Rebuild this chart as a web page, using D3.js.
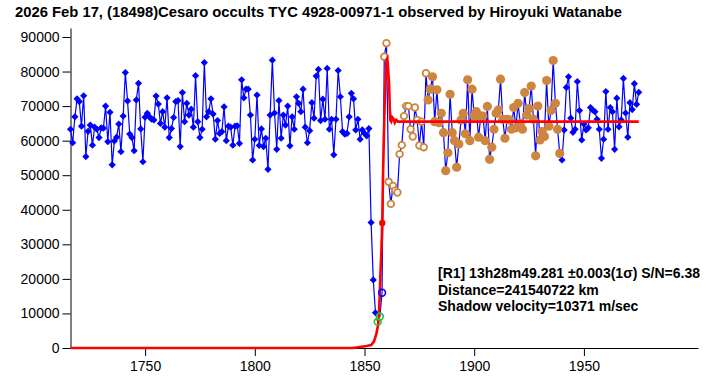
<!DOCTYPE html>
<html>
<head>
<meta charset="utf-8">
<script src="https://cdn.jsdelivr.net/npm/d3@7"></script>
<style>
  body { margin: 0; background: #fff; }
  svg { display: block; font-family: "Liberation Sans", Arial, sans-serif; }
</style>
</head>
<body>
<div id="chart"></div>
<script>
// light curve, one value per frame starting at firstFrame
const firstFrame = 1716;
const flux = [
  63300, 59400, 66900, 72100, 71300, 64200, 73000, 55400, 62700, 64500,
  58700, 63900, 63300, 60900, 63700, 63600, 70000, 59700, 68200, 53000,
  59900, 61000, 64800, 56800, 67100, 79700, 71500, 61900, 60900, 57100,
  71800, 76600, 63400, 53900, 66800, 67900, 66900, 66200, 66000, 72900,
  70600, 65000, 68400, 63900, 72400, 60900, 63500, 66700, 71300, 71600,
  58300, 73900, 65500, 70800, 67400, 69100, 63900, 78800, 65500, 60900,
  63300, 82600, 66900, 68400, 72100, 67700, 60400, 65800, 62100, 62600,
  69800, 60000, 64200, 63900, 58700, 64200, 64300, 59200, 77600, 72400,
  74900, 74900, 67400, 54400, 60400, 73200, 58600, 63400, 58300, 60700,
  51700, 67400, 83300, 68000, 57500, 71600, 60700, 67400, 64500, 70000,
  58500, 66900, 63300, 72700, 70800, 68400, 74900, 63900, 59400, 62900,
  71000, 66500, 78700, 80600, 65800, 72000, 66200, 80900, 63300, 66200,
  55900, 66200, 80300, 72700, 62600, 61900, 62100, 66900, 73700, 72100,
  63100, 66200, 60400, 63100, 62100, 61400, 63500, 36300, 19700, 10200,
  7600, 9100, 16000, 84300, 88200, 48100, 41700, 46900, 45500, 45000,
  56100, 58700, 67100, 70000, 70000, 63300, 61200, 69600, 66000, 58600,
  65500, 58100, 79500, 71800, 74900, 78500, 65500, 74700, 65200, 67900,
  62300, 51300, 56500, 73400, 62300, 60000, 52300, 59000, 66000, 67900,
  62000, 77600, 60000, 74900, 67100, 68400, 61000, 67100, 67100, 60000,
  69900, 54600, 58100, 63300, 67900, 68900, 77800, 66200, 60700, 66200,
  66000, 63300, 69600, 63700, 70800, 65000, 63300, 73900, 67400, 69300,
  75800, 66200, 55600, 70000, 60200, 62600, 61200, 77400, 64200, 68700,
  83200, 70800, 63300, 56300, 54400, 63100, 75400, 78500, 66500, 62400,
  63300, 77100, 68700, 60200, 64800, 63100, 63700, 69600, 68900, 68400,
  66200, 63300, 54900, 60400, 74200, 63300, 69600, 68400, 57500, 72300,
  64000, 66000, 78000, 68000, 61000, 71000, 69000, 76500, 70500, 74000
];

// frames drawn with other markers
const greenFrames = [1856, 1857];
const hollowBlueFrames = [1858];
const hollowOrangeFrames = [1859, 1878];   // first, last
const filledOrangeFrames = [1879, 1939];   // first, last

// fitted model curve
const modelX = [1716, 1844.8, 1850.9, 1853.1, 1854.3, 1855.4, 1856.2, 1856.6, 1856.9, 1857.2,
  1857.7, 1858.1, 1858.4, 1858.9, 1859.2, 1859.7, 1860.0, 1860.4, 1860.7, 1861.2,
  1861.5, 1861.8, 1862.2, 1862.7, 1863.3, 1863.8, 1864.5, 1865.3, 1975];
const modelY = [0, 0, 570, 860, 1830, 4050, 6650, 10000, 14800, 20600,
  28300, 36200, 48600, 63100, 70800, 78500, 83300, 83800, 81400, 76600,
  69800, 65900, 65500, 66700, 66200, 65200, 66000, 65500, 65500];

const eventFrame = 1858.1, eventFlux = 36200;

const title = "2026 Feb 17, (18498)Cesaro occults TYC 4928-00971-1 observed by Hiroyuki Watanabe";
const notes = [
  "[R1] 13h28m49.281 \u00b10.003(1\u03c3) S/N=6.38",
  "Distance=241540722 km",
  "Shadow velocity=10371 m/sec"
];
const yTicks = [0, 10000, 20000, 30000, 40000, 50000, 60000, 70000, 80000, 90000];
const xTicks = [1750, 1800, 1850, 1900, 1950];

const width = 728, height = 378;
const margin = { top: 28, right: 30, bottom: 30, left: 70.5 };

const svg = d3.select("#chart").append("svg")
    .attr("width", width)
    .attr("height", height);

const x = d3.scaleLinear()
    .domain([1716, 2002])
    .range([margin.left, width - margin.right]);

const y = d3.scaleLinear()
    .domain([0, 92600])
    .range([height - margin.bottom, margin.top]);

const points = flux.map((v, i) => ({ frame: firstFrame + i, value: v }));

const inRange = (f, r) => f >= r[0] && f <= r[1];
const kind = d => {
    if (greenFrames.includes(d.frame)) return "green";
    if (hollowBlueFrames.includes(d.frame)) return "hollowBlue";
    if (inRange(d.frame, hollowOrangeFrames)) return "hollowOrange";
    if (inRange(d.frame, filledOrangeFrames)) return "filledOrange";
    return "blue";
};

// axes
svg.append("g")
    .attr("transform", `translate(${margin.left},0)`)
    .call(d3.axisLeft(y).tickValues(yTicks).tickFormat(d3.format("d")).tickSize(8).tickSizeOuter(0).tickPadding(3));

svg.append("g")
    .attr("transform", `translate(0,${y(0)})`)
    .call(d3.axisBottom(x).tickValues(xTicks).tickFormat(d3.format("d")).tickSize(8).tickSizeOuter(0).tickPadding(5));

svg.selectAll(".tick text")
    .style("font-size", "14px")
    .attr("fill", "#000");
svg.selectAll(".domain, .tick line").attr("stroke", "#000");

// data line
const line = d3.line()
    .x(d => x(d.frame))
    .y(d => y(d.value));

svg.append("path")
    .datum(points)
    .attr("fill", "none")
    .attr("stroke", "#0000ff")
    .attr("stroke-width", 1.2)
    .attr("d", line);

const diamond = r => `M0,${-r}L${r},0L0,${r}L${-r},0Z`;

svg.append("g")
    .selectAll("path")
    .data(points.filter(d => kind(d) === "blue"))
    .join("path")
    .attr("transform", d => `translate(${x(d.frame)},${y(d.value)})`)
    .attr("d", diamond(3.6))
    .attr("fill", "#0000ff");

svg.append("g")
    .selectAll("circle")
    .data(points.filter(d => kind(d) === "filledOrange"))
    .join("circle")
    .attr("cx", d => x(d.frame))
    .attr("cy", d => y(d.value))
    .attr("r", 4.6)
    .attr("fill", "#cd853f");

svg.append("g")
    .selectAll("circle")
    .data(points.filter(d => kind(d) === "hollowOrange"))
    .join("circle")
    .attr("cx", d => x(d.frame))
    .attr("cy", d => y(d.value))
    .attr("r", 3.3)
    .attr("fill", "#fff")
    .attr("stroke", "#cd853f")
    .attr("stroke-width", 1.8);

// model
svg.append("path")
    .datum(modelX.map((f, i) => ({ frame: f, value: modelY[i] })))
    .attr("fill", "none")
    .attr("stroke", "#ff0000")
    .attr("stroke-width", 2.6)
    .attr("d", line);

svg.append("g")
    .selectAll("circle")
    .data(points.filter(d => kind(d) === "green"))
    .join("circle")
    .attr("cx", d => x(d.frame))
    .attr("cy", d => y(d.value))
    .attr("r", 3.4)
    .attr("fill", "none")
    .attr("stroke", "#33bb33")
    .attr("stroke-width", 1.6);

svg.append("g")
    .selectAll("circle")
    .data(points.filter(d => kind(d) === "hollowBlue"))
    .join("circle")
    .attr("cx", d => x(d.frame))
    .attr("cy", d => y(d.value))
    .attr("r", 3.4)
    .attr("fill", "none")
    .attr("stroke", "#0000ff")
    .attr("stroke-width", 1.6);

svg.append("circle")
    .attr("cx", x(eventFrame))
    .attr("cy", y(eventFlux))
    .attr("r", 3.2)
    .attr("fill", "#ff0000");

// texts
svg.append("text")
    .attr("x", 15)
    .attr("y", 17)
    .attr("textLength", 607)
    .attr("lengthAdjust", "spacingAndGlyphs")
    .style("font-size", "15px")
    .style("font-weight", "bold")
    .text(title);

svg.append("g")
    .selectAll("text")
    .data(notes)
    .join("text")
    .attr("x", 438)
    .attr("y", (d, i) => 278 + i * 16.5)
    .style("font-size", "14px")
    .style("font-weight", "bold")
    .text(d => d);
</script>
</body>
</html>
